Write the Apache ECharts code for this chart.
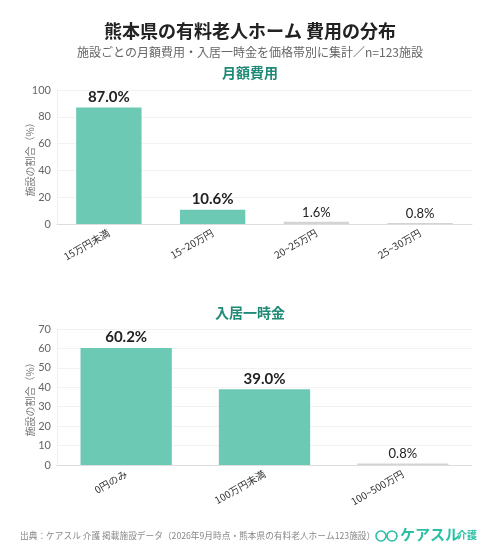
<!DOCTYPE html>
<html><head><meta charset="utf-8">
<script src="https://cdn.jsdelivr.net/npm/echarts@6/dist/echarts.min.js"></script>
<style>html,body{margin:0;padding:0;background:#fff}#c{width:500px;height:558px}</style>
</head><body><div id="c"></div>
<script>
const monthlyCategories = ['15万円未満', '15~20万円', '20~25万円', '25~30万円'];
const monthlyValues = [87.0, 10.6, 1.6, 0.8];
const entryCategories = ['0円のみ', '100万円未満', '100~500万円'];
const entryValues = [60.2, 39.0, 0.8];

const FONT = '"Noto Sans CJK JP", "Noto Sans", sans-serif';
const NUMFONT = 'Lato, "Noto Sans CJK JP", sans-serif';
const TEAL = '#6cc9b4';
const GRAY = '#d4d4d4';

const chart = echarts.init(document.getElementById('c'));

function xAxis(idx, cats) {
  return {
    type: 'category', gridIndex: idx, data: cats,
    axisLine: { lineStyle: { color: '#dddddd' } },
    axisTick: { alignWithLabel: true, length: 3, lineStyle: { color: '#cccccc' } },
    axisLabel: { rotate: 30, fontSize: 10, color: '#333', fontFamily: FONT, margin: 8 }
  };
}
function yAxis(idx, max, interval) {
  return {
    type: 'value', gridIndex: idx, min: 0, max: max, interval: interval,
    name: '施設の割合（%）', nameLocation: 'middle', nameGap: 22, nameMoveOverlap: false,
    nameTextStyle: { fontSize: 10, color: '#777', fontFamily: FONT },
    axisLine: { show: true, lineStyle: { color: '#eeeeee' } },
    axisTick: { show: false },
    axisLabel: { fontSize: 11, color: '#666', fontFamily: NUMFONT, margin: 6 },
    splitLine: { lineStyle: { color: '#f2f2f2' } }
  };
}
function series(idx, vals, gap) {
  return {
    type: 'bar', xAxisIndex: idx, yAxisIndex: idx,
    data: vals.map(v => ({
      value: v,
      label: { fontSize: v < 5 ? 13 : 15, fontWeight: v < 5 ? 'normal' : 'bold' }
    })),
    barCategoryGap: gap,
    itemStyle: { color: p => (p.value < 5 ? GRAY : TEAL) },
    label: {
      show: true, position: 'top', distance: 3,
      formatter: p => p.value.toFixed(1) + '%',
      fontFamily: NUMFONT, color: '#222'
    }
  };
}

chart.setOption({
  animation: false,
  title: [
    { text: '熊本県の有料老人ホーム 費用の分布', left: 'center', top: 17,
      textStyle: { fontSize: 18, fontWeight: 'bold', color: '#222', fontFamily: FONT } },
    { text: '施設ごとの月額費用・入居一時金を価格帯別に集計／n=123施設', left: 'center', top: 41,
      textStyle: { fontSize: 12, fontWeight: 'normal', color: '#666', fontFamily: FONT } },
    { text: '月額費用', left: 'center', top: 61,
      textStyle: { fontSize: 14, fontWeight: 'bold', color: '#1f8a76', fontFamily: FONT } },
    { text: '入居一時金', left: 'center', top: 301,
      textStyle: { fontSize: 14, fontWeight: 'bold', color: '#1f8a76', fontFamily: FONT } }
  ],
  grid: [
    { left: 57, right: 28, top: 90, height: 134 },
    { left: 57, right: 28, top: 329, height: 136 }
  ],
  xAxis: [xAxis(0, monthlyCategories), xAxis(1, entryCategories)],
  yAxis: [yAxis(0, 100, 20), yAxis(1, 70, 10)],
  series: [series(0, monthlyValues, '37%'), series(1, entryValues, '34%')],
  graphic: [
    { type: 'text', left: 20, top: 531,
      style: { text: '出典：ケアスル 介護 掲載施設データ（2026年9月時点・熊本県の有料老人ホーム123施設）',
        fontSize: 8.7, fill: '#888', fontFamily: FONT } },
    { type: 'circle', shape: { cx: 381, cy: 536, r: 5 }, style: { fill: 'none', stroke: '#2bbfa5', lineWidth: 1.6 } },
    { type: 'circle', shape: { cx: 392, cy: 536, r: 5 }, style: { fill: 'none', stroke: '#2bbfa5', lineWidth: 1.6 } },
    { type: 'text', left: 400, top: 527,
      style: { text: 'ケアスル', fontSize: 15, fontWeight: 'bold', fill: '#2bbfa5', fontFamily: FONT } },
    { type: 'text', left: 457, top: 530,
      style: { text: '介護', fontSize: 10, fontWeight: 'bold', fill: '#2bbfa5', fontFamily: FONT } }
  ]
});
</script>
</body></html>
